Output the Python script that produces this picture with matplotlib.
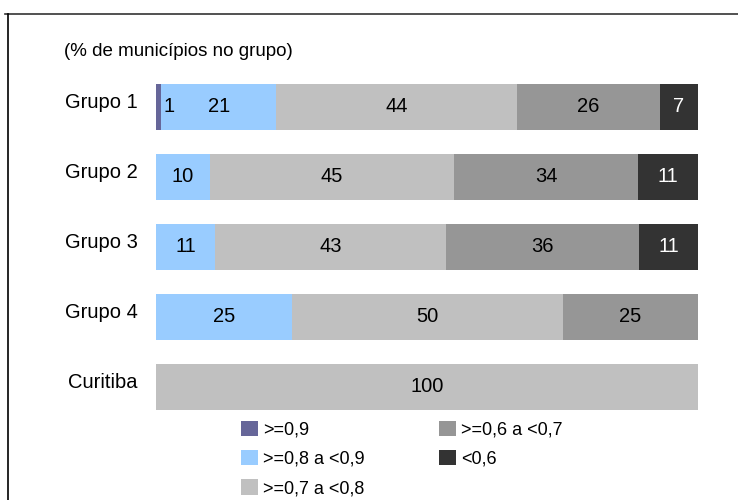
"""Stacked 100% bar chart: municípios por faixa, por grupo."""

import matplotlib

matplotlib.use("Agg")
from matplotlib import pyplot as plt  # noqa: E402
from matplotlib.lines import Line2D  # noqa: E402
from matplotlib.patches import Patch  # noqa: E402
from matplotlib.transforms import ScaledTranslation  # noqa: E402

plt.rcParams["font.family"] = ["Liberation Sans", "DejaVu Sans"]

groups = ["Grupo 1", "Grupo 2", "Grupo 3", "Grupo 4", "Curitiba"]
classes = [">=0,9", ">=0,8 a <0,9", ">=0,7 a <0,8", ">=0,6 a <0,7", "<0,6"]
values = [
    [1, 21, 44, 26, 7],
    [0, 10, 45, 34, 11],
    [0, 11, 43, 36, 11],
    [0, 25, 50, 25, 0],
    [0, 0, 100, 0, 0],
]
colors = ["#666699", "#99CCFF", "#C0C0C0", "#969696", "#333333"]
title = "(% de municípios no grupo)"

fig = plt.figure(figsize=(7.38, 5.0), dpi=100)
ax = fig.add_axes([156 / 738, 78 / 500, 542 / 738, 350 / 500])

for row, vals in enumerate(values):
    total = sum(vals)
    left = 0.0
    for k, v in enumerate(vals):
        if v == 0:
            continue
        width = v / total * 100
        ax.barh(row, width, left=left, height=0.67, color=colors[k], linewidth=0)
        txt_color = "white" if k == 4 else "black"
        if width < 3:
            ax.text(left + width + 0.4, row, str(v), ha="left", va="center",
                    fontsize=14.5, color=txt_color)
        else:
            ax.text(left + width / 2, row, str(v), ha="center", va="center",
                    fontsize=14.5, color=txt_color)
        left += width

ax.set_xlim(0, 100)
ax.set_ylim(4.5, -0.5)
ax.set_yticks(range(len(groups)))
ax.set_yticklabels(groups, fontsize=14.5)
ax.tick_params(axis="y", length=0, pad=13)
ax.set_xticks([])
for lbl in ax.get_yticklabels():
    lbl.set_transform(lbl.get_transform() + ScaledTranslation(0, 0.06, fig.dpi_scale_trans))
for spine in ax.spines.values():
    spine.set_visible(False)

fig.text(64 / 738, 1 - 52 / 500, title, ha="left", va="center", fontsize=13.5)

handles = [Patch(facecolor=c, edgecolor="none") for c in colors]
fig.legend(
    handles,
    classes,
    ncol=2,
    loc="upper left",
    bbox_to_anchor=(228 / 738, 1 - 408 / 500),
    frameon=False,
    fontsize=13,
    handlelength=0.95,
    handleheight=0.95,
    handletextpad=0.3,
    labelspacing=0.62,
    columnspacing=4.1,
    borderpad=0.2,
)

# outer frame (top and left edges only visible)
fig.add_artist(Line2D([5 / 738, 1.0], [1 - 14 / 500, 1 - 14 / 500], color="#333333", linewidth=1.2))
fig.add_artist(Line2D([7.5 / 738, 7.5 / 738], [0.0, 1 - 14 / 500], color="black", linewidth=1.2))

fig.savefig("out.png", dpi=100)
